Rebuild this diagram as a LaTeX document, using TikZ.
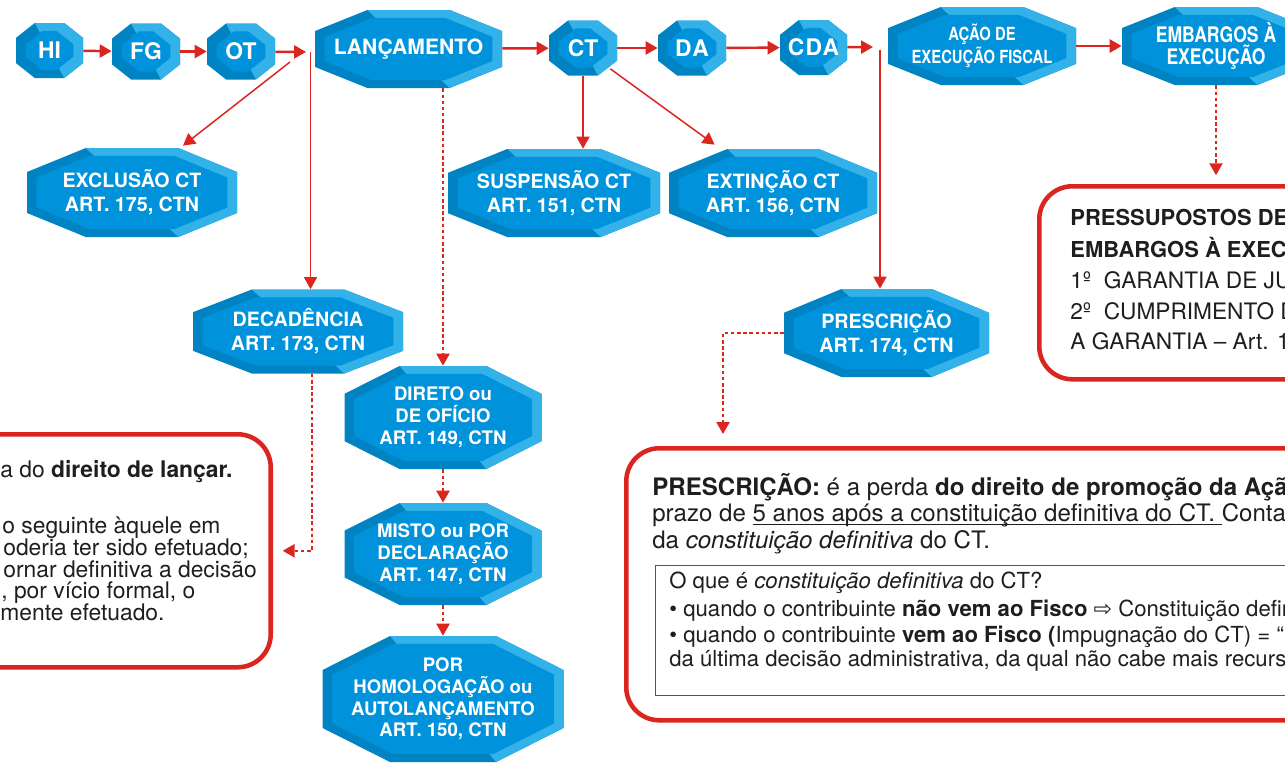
\documentclass[tikz,border=0pt]{standalone}
\usepackage{fontspec}
\setmainfont{TeX Gyre Heros}
\newfontfamily\condfont[FakeStretch=0.82]{TeX Gyre Heros}
\newfontfamily\arrowfont{DejaVu Sans}
\usetikzlibrary{arrows.meta,calc}

\definecolor{octlight}{RGB}{51,177,233}
\definecolor{octdark}{RGB}{0,131,194}
\definecolor{octmid}{RGB}{0,147,220}
\definecolor{linkred}{RGB}{218,38,30}
\definecolor{boxgray}{RGB}{85,85,85}
\definecolor{ink}{RGB}{30,30,30}

% octagon from corners (#1,#2)-(#3,#4), cuts #5 and #6
\newcommand\octpath[6]{(#1,#2+#6) -- (#1,#4-#6) -- (#1+#5,#4) -- (#3-#5,#4)
  -- (#3,#4-#6) -- (#3,#2+#6) -- (#3-#5,#2) -- (#1+#5,#2) -- cycle}
\newcommand\octlet{let \p1=(path picture bounding box.south west),
  \p2=(path picture bounding box.north east),
  \n1={0.28*(\x2-\x1)}, \n2={0.27*(\y2-\y1)} in}
% underline just below the baseline
\newcommand\ulined[1]{\setbox0=\hbox{#1}\rlap{\rule[-2.3pt]{\wd0}{0.75pt}}\box0}

\tikzset{
  octa/.style={inner sep=0pt, text=white, align=center,
    path picture={
      \fill[octdark] \octlet \octpath{\x1}{\y1}{\x2}{\y2}{\n1}{\n2};
      \fill[octlight] \octlet (\x1+\n1,\y2) -- (\x2-\n1,\y2) -- (\x2,\y2-\n2)
        -- (\x2,\y1+\n2) -- (\x2-\n1,\y1) -- cycle;
      \fill[octmid] \octlet
        \octpath{\x1+5.5pt}{\y1+4.5pt}{\x2-5.5pt}{\y2-4.5pt}{0.9*\n1}{0.9*\n2};
    }},
  sz/.style 2 args={minimum width=#1*0.02cm, minimum height=#2*0.02cm},
  topfont/.style={font=\fontsize{13pt}{15pt}\selectfont\bfseries},
  widefont/.style={font=\fontsize{13pt}{15pt}\selectfont\bfseries\addfontfeature{LetterSpace=6}},
  lancfont/.style={font=\fontsize{12pt}{14pt}\selectfont\bfseries},
  acaofont/.style={font=\condfont\fontsize{10.3pt}{11.3pt}\selectfont\bfseries},
  embfont/.style={font=\condfont\fontsize{12.2pt}{12.5pt}\selectfont\bfseries},
  midfont/.style={font=\fontsize{11.2pt}{13.8pt}\selectfont\bfseries},
  lowfont/.style={font=\fontsize{10.6pt}{12.4pt}\selectfont\bfseries},
  link/.style={draw=linkred, line width=1.4pt, -{Triangle[length=6.8pt,width=7.4pt]}},
  thinlink/.style={link, line width=0.85pt},
  dotlink/.style={link, line width=1.3pt, dash pattern=on 2pt off 1.5pt},
  redframe/.style={draw=linkred, line width=2.6pt, rounded corners=0.66cm, inner sep=0pt},
  note/.style={anchor=base west, inner sep=0pt, text=ink}
}

\begin{document}
\begin{tikzpicture}[x=0.02cm, y=-0.02cm]
\useasboundingbox (0,0) rectangle (1285,764);
\clip (0,0) rectangle (1285,764);

% boxes with notes
\node[redframe, sz={700}{233}, anchor=north east] (decbox) at (273,432) {};
\node[redframe, sz={700}{193}, anchor=north west] (pressbox) at (1037,184) {};
\node[redframe, sz={900}{272}, anchor=north west] (prescbox) at (624,446) {};
\node[draw=boxgray, line width=0.6pt, inner sep=0pt, sz={800}{130}, anchor=north west] (defbox) at (655,565) {};

% decadencia
\begin{scope}[font=\fontsize{13pt}{15pt}\selectfont]
\node[note] (dl1) at (0,477) {a do \textbf{direito de lançar.}};
\node[note] (dl2) at (2,533) {o seguinte àquele em};
\node[note] (dl3) at (3,555) {oderia ter sido efetuado;};
\node[note] (dl4) at (3,577) {ornar definitiva a decisão};
\node[note] (dl5) at (1,598) {, por vício formal, o};
\node[note] (dl6) at (0,620) {mente efetuado.};
\end{scope}

% embargos
\begin{scope}[font=\fontsize{12.9pt}{15pt}\selectfont]
\node[note, font=\fontsize{12.5pt}{15pt}\selectfont] (pp1) at (1070,225) {\textbf{PRESSUPOSTOS DE}};
\node[note, font=\fontsize{12.5pt}{15pt}\selectfont] (pp2) at (1070,257) {\textbf{EMBARGOS À EXECUÇÃO}};
\node[note] (pp3) at (1070,288) {1º\ \ GARANTIA DE JUÍZO};
\node[note] (pp4) at (1070,319) {2º\ \ CUMPRIMENTO DO};
\node[note] (pp5) at (1070,349) {A GARANTIA – Art. 16};
\end{scope}

% prescricao
\begin{scope}[font=\fontsize{13.7pt}{15pt}\selectfont]
\node[note] (pl1) at (652,495) {\textbf{PRESCRIÇÃO:} é a perda \textbf{do direito de promoção da Ação}};
\node[note] (pl2) at (652,521) {prazo de \ulined{5 anos após a constituição definitiva do CT.\ }Conta};
\node[note] (pl3) at (652,548) {da \textit{constituição definitiva} do CT.};
\end{scope}
\begin{scope}[font=\fontsize{12.6pt}{15pt}\selectfont]
\node[note] (dq1) at (669,588) {O que é \textit{constituição definitiva} do CT?};
\node[note] (dq2) at (669,616) {• quando o contribuinte \textbf{não vem ao Fisco} {\arrowfont ⇨} Constituição definitiva};
\node[note] (dq3) at (669,642) {• quando o contribuinte \textbf{vem ao Fisco (}Impugnação do CT) = “};
\node[note] (dq4) at (669,666) {da última decisão administrativa, da qual não cabe mais recurso};
\end{scope}

% top row
\node[octa, sz={67}{55}, topfont] (hi) at (49.5,50.5) {HI};
\node[octa, sz={68}{56}, topfont] (fg) at (146,51.5) {FG};
\node[octa, sz={68}{56}, topfont] (ot) at (241,51.5) {OT};
\node[octa, sz={187}{78}, lancfont] (lanc) at (408.5,49) {LANÇAMENTO};
\node[octa, sz={68}{55}, topfont] (ct) at (583,48) {CT};
\node[octa, sz={68}{55}, widefont] (da) at (692,48) {DA};
\node[octa, sz={67}{55}, widefont] (cda) at (813.5,47.5) {CDA};
\node[octa, sz={188}{78}, acaofont] (acao) at (982,46) {AÇÃO DE\\EXECUÇÃO FISCAL};
\node[octa, sz={188}{78}, embfont] (emb) at (1216,46) {EMBARGOS À\\EXECUÇÃO};

% second level
\node[octa, sz={210}{89}, midfont] (excl) at (132,192.5) {EXCLUSÃO CT\\ART. 175, CTN};
\node[octa, sz={212}{88}, midfont] (susp) at (554,193) {SUSPENSÃO CT\\ART. 151, CTN};
\node[octa, sz={208}{88}, midfont] (ext) at (773,193) {EXTINÇÃO CT\\ART. 156, CTN};
\node[octa, sz={210}{84}, midfont] (deca) at (298,331.5) {DECADÊNCIA\\ART. 173, CTN};
\node[octa, sz={205}{88}, midfont] (presc) at (886.5,333) {PRESCRIÇÃO\\ART. 174, CTN};

% modalidades
\node[octa, sz={197}{103}, lowfont] (dir) at (443,417.5) {DIRETO ou\\DE OFÍCIO\\ART. 149, CTN};
\node[octa, sz={197}{102}, lowfont] (misto) at (443,554) {MISTO ou POR\\DECLARAÇÃO\\ART. 147, CTN};
\node[octa, sz={241}{126}, lowfont] (homol) at (443,699) {POR\\HOMOLOGAÇÃO ou\\AUTOLANÇAMENTO\\ART. 150, CTN};

% arrows
\coordinate (fork1) at (306,52);
\coordinate (fork1d) at (310.5,52);
\coordinate (fork1s) at (290,62);
\coordinate (fork2) at (873,47);
\coordinate (fork2d) at (880,50);

\draw[link] (hi) -- (fg);
\draw[link] (fg) -- (ot);
\draw[link] (ot) -- (fork1);
\draw[thinlink] (fork1d) -- (fork1d |- deca.north);
\draw[thinlink] (fork1s) -- ($(excl.north)+(51,-2)$);
\draw[link] (lanc) -- (ct);
\draw[link] (ct) -- (da);
\draw[link] (da) -- (cda);
\draw[link] (cda) -- (fork2);
\draw[thinlink] (fork2d) -- (fork2d |- presc.north);
\draw[link] (acao) -- (emb);
\draw[thinlink] (ct.south) -- (ct.south |- susp.north);
\draw[thinlink] ($(ct.south east)+(-7,-7)$) -- ($(ext.north west)+(46,-4)$);

\draw[dotlink] (lanc.south -| dir.north) -- (dir.north);
\draw[dotlink] (dir) -- (misto);
\draw[dotlink] (misto) -- (homol);
\draw[dotlink, shorten >=5.5pt] ($(deca.south)+(14,0)$) |- (decbox.east);
\draw[dotlink] (presc.west) -| ($(prescbox.north west)+(99,-12)$);
\draw[dotlink, shorten >=5pt] (emb.south) -- (emb.south |- pressbox.north);
\end{tikzpicture}
\end{document}
